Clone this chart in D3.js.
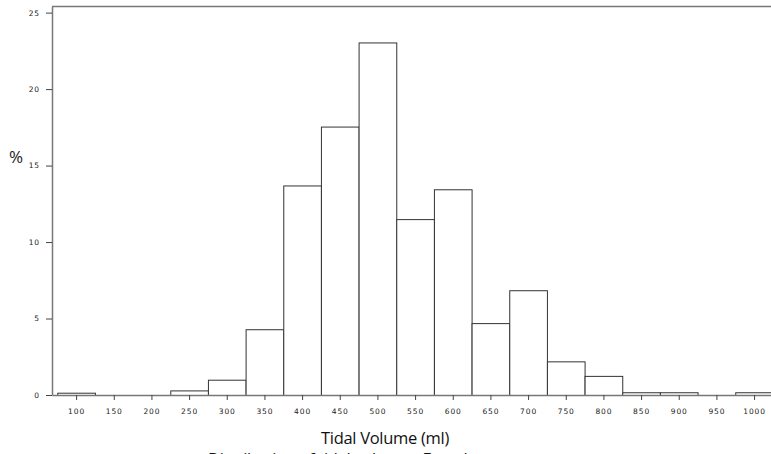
<!DOCTYPE html>
<html>
<head>
<meta charset="utf-8">
<script src="https://cdn.jsdelivr.net/npm/d3@7"></script>
<style>
  html, body { margin: 0; padding: 0; background: #fff; overflow: hidden; }
  svg { display: block; }
</style>
</head>
<body>
<svg id="chart" width="771" height="454"></svg>
<script>
// bin centres (ml) and percent of observations in each 50 ml bin
const binCenters = [100, 150, 200, 250, 300, 350, 400, 450, 500, 550, 600, 650, 700, 750, 800, 850, 900, 950, 1000];
const percents   = [0.15, 0, 0, 0.3, 1.0, 4.3, 13.7, 17.55, 23.05, 11.5, 13.45, 4.7, 6.85, 2.2, 1.25, 0.18, 0.18, 0, 0.18];
const xTicks = [100, 150, 200, 250, 300, 350, 400, 450, 500, 550, 600, 650, 700, 750, 800, 850, 900, 950, 1000];
const yTicks = [0, 5, 10, 15, 20, 25];
const binWidth = 50;

(function() {
  let svg = d3.select('#chart');

  let left = 52, top = 6.5, bottom = 395;

  let x = d3.scaleLinear().domain([68, 1050]).range([left, left + 982 * 0.7533]);
  let y = d3.scaleLinear().domain([0, 25.4]).range([bottom, top]);

  let axisColor = '#777';
  let tickFont = "'DejaVu Sans', sans-serif";

  //
  // Bars
  //
  let bars = binCenters
    .map((c, i) => ({ c: c, v: percents[i] }))
    .filter((d) => d.v > 0);

  svg.append('g').attr('class', 'bars')
    .selectAll('rect')
    .data(bars)
    .enter().append('rect')
      .attr('x', (d) => x(d.c - binWidth / 2) + 0.5)
      .attr('y', (d) => y(d.v) + 0.5)
      .attr('width', (d) => x(d.c + binWidth / 2) - x(d.c - binWidth / 2))
      .attr('height', (d) => y(0) - y(d.v))
      .attr('fill', 'white')
      .attr('stroke', '#333')
      .attr('stroke-width', 1);

  //
  // Frame (top edge + left axis + bottom axis)
  //
  svg.append('line')
    .attr('x1', left).attr('x2', 800)
    .attr('y1', top).attr('y2', top)
    .attr('stroke', axisColor).attr('stroke-width', 1.5);

  let styleTicks = (g) => {
    g.select('.domain').attr('stroke', axisColor).attr('stroke-width', 1.5);
    g.selectAll('.tick line').attr('stroke', '#444');
    g.selectAll('.tick text')
      .attr('fill', '#222')
      .style('font-family', tickFont)
      .style('font-size', '7.5px')
      .style('letter-spacing', '0.9px');
  };

  let xAxis = d3.axisBottom(x)
    .tickValues(xTicks)
    .tickFormat(d3.format('d'))
    .tickSize(5)
    .tickPadding(9)
    .tickSizeOuter(0);

  svg.append('g')
    .attr('transform', `translate(0,${bottom})`)
    .call(xAxis)
    .call(styleTicks);

  let yAxis = d3.axisLeft(y)
    .tickValues(yTicks)
    .tickSize(6)
    .tickPadding(6)
    .tickSizeOuter(0);

  svg.append('g')
    .attr('transform', `translate(${left},0)`)
    .call(yAxis)
    .call(styleTicks);

  //
  // Labels
  //
  svg.append('text')
    .attr('x', 9).attr('y', 163)
    .attr('fill', '#222')
    .style('font-family', "'Open Sans', sans-serif")
    .style('font-size', '17px')
    .text('%');

  svg.append('text')
    .attr('x', 385).attr('y', 443.5)
    .attr('text-anchor', 'middle')
    .attr('fill', '#111')
    .style('font-family', "'Open Sans', sans-serif")
    .style('font-size', '16.5px')
    .style('letter-spacing', '-0.3px')
    .text('Tidal Volume (ml)');

  // chart caption, cut off by the bottom edge as in the source image
  svg.append('text')
    .attr('x', 208).attr('y', 465)
    .attr('fill', '#111')
    .style('font-family', "'Open Sans', sans-serif")
    .style('font-size', '16.5px')
    .style('letter-spacing', '-0.3px')
    .text('Distribution of tidal volume - Female');
})();
</script>
</body>
</html>
